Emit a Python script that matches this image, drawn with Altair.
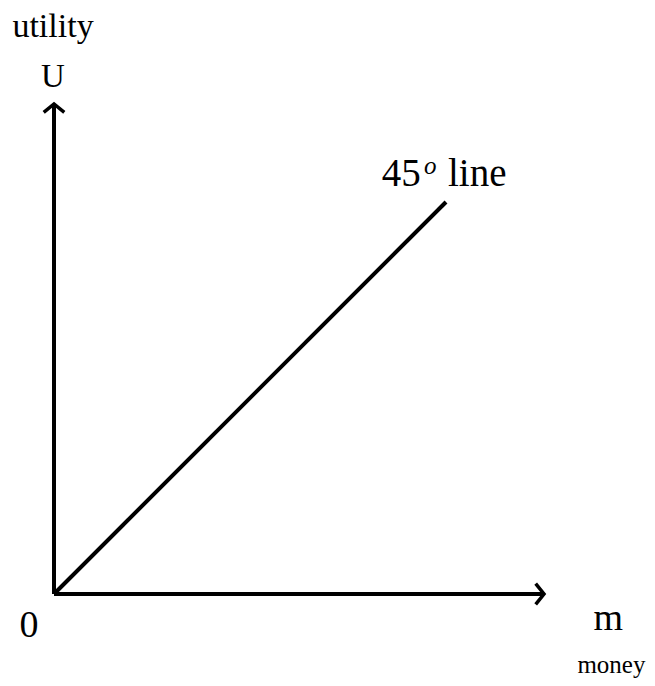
import altair as alt
import pandas as pd

# Diagram geometry in data units (money m, utility U)
axis_len = 10
line_len = 8          # 45-degree line U = m
head_w = 0.21
head_d = 0.17

# polylines: id, x list, y list
seg_ids = ["yaxis", "xaxis", "diag", "yhead", "xhead"]
seg_x = [
    [0, 0],
    [0, axis_len],
    [0, line_len],
    [-head_w, 0, head_w],
    [axis_len - head_d, axis_len, axis_len - head_d],
]
seg_y = [
    [0, axis_len],
    [0, 0],
    [0, line_len],
    [axis_len - head_d, axis_len, axis_len - head_d],
    [head_w, 0, -head_w],
]
seg_w = [4, 4, 4, 3.5, 3.5]

rows = []
for sid, xs, ys, w in zip(seg_ids, seg_x, seg_y, seg_w):
    for i, (a, b) in enumerate(zip(xs, ys)):
        rows.append({"seg": sid, "o": i, "x": a, "y": b, "w": w})
lines = pd.DataFrame(rows)

# labels
lab_text = ["utility", "U", "45", "o", "line", "0", "m", "money"]
lab_x = [-0.02, -0.02, 6.69, 7.55, 8.04, -0.51, 11.31, 12.07]
lab_y = [11.37, 10.35, 8.33, 8.58, 8.33, -0.88, -0.73, -1.62]
lab_size = [34, 33, 39, 25, 39, 38, 38, 25]
lab_align = ["center", "center", "left", "left", "left", "center", "center", "right"]
lab_style = ["normal", "normal", "normal", "italic", "normal", "normal", "normal", "normal"]

labels = pd.DataFrame({"t": lab_text, "x": lab_x, "y": lab_y, "s": lab_size,
                       "a": lab_align, "st": lab_style})

W, H = 639, 670
xs = alt.Scale(domain=[-46 / 49, (W - 46) / 49], nice=False, zero=False)
ys = alt.Scale(domain=[-(H - 586) / 49, 586 / 49], nice=False, zero=False)

base_line = alt.Chart(lines).mark_line(color="black", strokeJoin="miter", strokeCap="butt").encode(
    x=alt.X("x:Q", scale=xs, axis=None),
    y=alt.Y("y:Q", scale=ys, axis=None),
    detail="seg:N",
    order="o:Q",
    strokeWidth=alt.StrokeWidth("w:Q", scale=None, legend=None),
)

text_layers = []
for align in ["center", "left", "right"]:
    for style in ["normal", "italic"]:
        sub = labels[(labels.a == align) & (labels.st == style)]
        if len(sub) == 0:
            continue
        text_layers.append(
            alt.Chart(sub).mark_text(
                align=align, baseline="alphabetic", font="Liberation Serif",
                fontStyle=style, color="black"
            ).encode(
                x=alt.X("x:Q", scale=xs, axis=None),
                y=alt.Y("y:Q", scale=ys, axis=None),
                text="t:N",
                size=alt.Size("s:Q", scale=None, legend=None),
            )
        )

chart = alt.layer(base_line, *text_layers).properties(
    width=W, height=H, padding=0, autosize=alt.AutoSizeParams(type="none")
).configure_view(stroke=None)

chart.save("out.html", embed_options={"renderer": "svg", "actions": False})
